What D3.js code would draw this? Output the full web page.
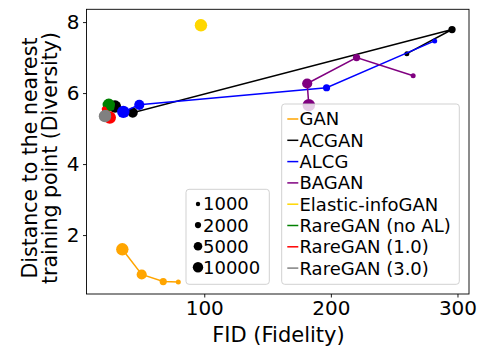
<!DOCTYPE html>
<html><head><meta charset="utf-8">
<script src="https://cdn.jsdelivr.net/npm/d3@7"></script>
<style>body{margin:0;background:#fff}svg{display:block}text{font-family:"DejaVu Sans",sans-serif}</style>
</head><body>
<script>
// ---- data ----
const sizes = [1000, 2000, 5000, 10000];
const methods = ["GAN","ACGAN","ALCG","BAGAN","Elastic-infoGAN","RareGAN (no AL)","RareGAN (1.0)","RareGAN (3.0)"];
const colors = ["orange","black","blue","purple","gold","green","red","gray"];
const ganFid = [79.5, 67.6, 50.6, 35.3];
const ganDiv = [0.68, 0.69, 0.89, 1.60];
const acganFid = [260.0, 295.7, 43.5, 29.5];
const acganDiv = [7.11, 7.79, 5.45, 5.62];
const alcgFid = [282.0, 196.6, 48.7, 36.1];
const alcgDiv = [7.47, 6.15, 5.67, 5.47];
const baganFid = [265.0, 220.3, 181.3, 182.6];
const baganDiv = [6.49, 7.00, 6.27, 5.66];
const elasticFid = [98.3, 97.8, 96.8, 97.4];
const elasticDiv = [7.90, 7.92, 7.93, 7.91];
const noAlFid = [27.0, 26.0, 24.5, 24.6];
const noAlDiv = [5.58, 5.62, 5.64, 5.67];
const rare10Fid = [21.0, 22.0, 23.5, 25.4];
const rare10Div = [5.55, 5.45, 5.35, 5.31];
const rare30Fid = [20.8, 21.6, 22.4, 21.6];
const rare30Div = [5.44, 5.32, 5.38, 5.35];
const xTicks = [100, 200, 300];
const yTicks = [2, 4, 6, 8];
const xLabel = "FID (Fidelity)";
const yLabel = ["Distance to the nearest", "training point (Diversity)"];

const fids = [ganFid, acganFid, alcgFid, baganFid, elasticFid, noAlFid, rare10Fid, rare30Fid];
const divs = [ganDiv, acganDiv, alcgDiv, baganDiv, elasticDiv, noAlDiv, rare10Div, rare30Div];

// ---- layout ----
const W = 483, H = 347;
const L = 86.5, R = 469, T = 9.3, B = 294;
const svg = d3.select("body").append("svg").attr("width", W).attr("height", H);
const x = d3.scaleLinear().domain([7.0, 309.1]).range([L, R]);
const y = d3.scaleLinear().domain([0.34, 8.36]).range([B, T]);
const r = d3.scaleLog().domain([1000, 10000]).range([2.5, 6.2]);
const rLeg = d3.scaleLog().domain([1000, 10000]).range([2.2, 5.2]);

// axes
const gx = svg.append("g").attr("transform", `translate(0,${B})`)
  .call(d3.axisBottom(x).tickValues(xTicks).tickSize(3.5).tickPadding(3.5).tickSizeOuter(0));
const gy = svg.append("g").attr("transform", `translate(${L},0)`)
  .call(d3.axisLeft(y).tickValues(yTicks).tickSize(3.5).tickPadding(3.5).tickSizeOuter(0));
[gx, gy].forEach(g => {
  g.select(".domain").remove();
  g.selectAll("text").attr("font-size", 20).attr("fill", "#000").style("font-family", "DejaVu Sans");
  g.selectAll("line").attr("stroke", "#000").attr("stroke-width", 0.9);
});
svg.append("rect").attr("x", L).attr("y", T).attr("width", R - L).attr("height", B - T)
  .attr("fill", "none").attr("stroke", "#000").attr("stroke-width", 0.9);

// series
const line = d3.line().x(d => x(d[0])).y(d => y(d[1]));
methods.forEach((m, i) => {
  const pts = sizes.map((s, j) => [fids[i][j], divs[i][j], s]);
  const g = svg.append("g");
  g.append("path").attr("d", line(pts)).attr("fill", "none")
    .attr("stroke", colors[i]).attr("stroke-width", 1.5);
  g.selectAll("circle").data(pts).join("circle")
    .attr("cx", d => x(d[0])).attr("cy", d => y(d[1])).attr("r", d => r(d[2]))
    .attr("fill", colors[i]);
});

// labels
svg.append("text").attr("x", 278.5).attr("y", 342).attr("text-anchor", "middle")
  .attr("font-size", 21).text(xLabel);
yLabel.forEach((t, k) => {
  svg.append("text").attr("transform", `translate(${36.5 + k * 20},${158}) rotate(-90)`)
    .attr("text-anchor", "middle").attr("font-size", 20.5).text(t);
});

// methods legend
const lg = svg.append("g");
lg.append("rect").attr("x", 281.7).attr("y", 104).attr("width", 177.6).attr("height", 180.3)
  .attr("rx", 3).attr("fill", "#fff").attr("fill-opacity", 0.8).attr("stroke", "#ccc").attr("stroke-width", 0.9);
methods.forEach((m, i) => {
  const cy = 119 + i * 21.3;
  lg.append("line").attr("x1", 287.3).attr("x2", 298.3).attr("y1", cy).attr("y2", cy)
    .attr("stroke", colors[i]).attr("stroke-width", 1.5);
  lg.append("text").attr("x", 299.5).attr("y", cy).attr("dy", "0.36em").attr("font-size", 18).text(m);
});

// sizes legend
const sg = svg.append("g");
sg.append("rect").attr("x", 186).attr("y", 189.3).attr("width", 83.3).attr("height", 95)
  .attr("rx", 3).attr("fill", "#fff").attr("fill-opacity", 0.8).attr("stroke", "#ccc").attr("stroke-width", 0.9);
sizes.forEach((s, i) => {
  const cy = 204 + i * 21.1;
  sg.append("circle").attr("cx", 198).attr("cy", cy).attr("r", rLeg(s)).attr("fill", "#000");
  sg.append("text").attr("x", 203).attr("y", cy).attr("dy", "0.36em").attr("font-size", 18).text(s);
});
</script>
</body></html>
